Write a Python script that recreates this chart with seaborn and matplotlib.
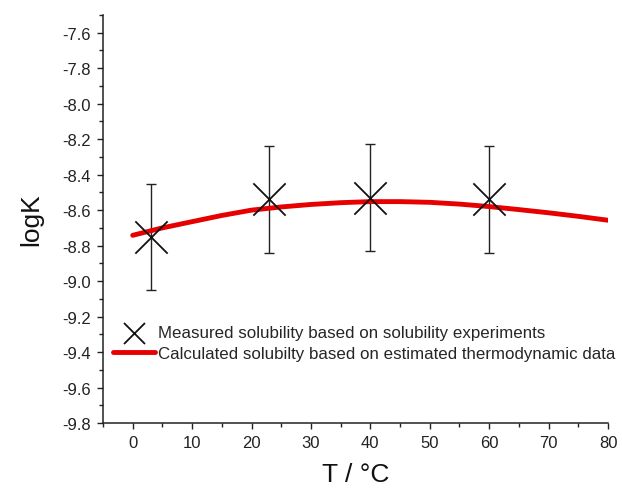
import numpy as np
import pandas as pd
import matplotlib
matplotlib.use('Agg')
import matplotlib.pyplot as plt
from matplotlib.ticker import MultipleLocator
import seaborn as sns

# measured points
temp_meas = [3, 23, 40, 60]
logk_meas = [-8.75, -8.54, -8.53, -8.54]
logk_err = [0.30, 0.30, 0.30, 0.30]

# calculated curve
temp_calc = [0, 5, 10, 15, 20, 25, 30, 35, 40, 45, 50, 55, 60, 65, 70, 75, 80]
logk_calc = [-8.742, -8.700, -8.665, -8.630, -8.600, -8.582, -8.568, -8.558,
             -8.552, -8.552, -8.556, -8.566, -8.580, -8.597, -8.615, -8.635, -8.657]

sns.set_style('ticks')
plt.rcParams['font.family'] = ['Liberation Sans', 'DejaVu Sans']
plt.rcParams['axes.unicode_minus'] = False

df_meas = pd.DataFrame({'T': temp_meas, 'logK': logk_meas, 'err': logk_err})
df_calc = pd.DataFrame({'T': temp_calc, 'logK': logk_calc})

fig = plt.figure(figsize=(6.22, 4.89), dpi=100)
ax = fig.add_axes([0.1656, 0.1329, 0.8119, 0.8344])

ax.errorbar(df_meas['T'], df_meas['logK'], yerr=df_meas['err'], fmt='none',
            ecolor='#222222', elinewidth=1.0, capsize=3.5, capthick=1.0, zorder=2)
sns.lineplot(data=df_calc, x='T', y='logK', color='#e60000', linewidth=3.5,
             ax=ax, zorder=3,
             label='Calculated solubilty based on estimated thermodynamic data')
sns.scatterplot(data=df_meas, x='T', y='logK', marker='x', s=540, color='#111111',
                linewidth=1.3, ax=ax, zorder=4,
                label='Measured solubility based on solubility experiments')

ax.set_xlim(-5, 80)
ax.set_ylim(-9.8, -7.5)
ax.xaxis.set_major_locator(MultipleLocator(10))
ax.xaxis.set_minor_locator(MultipleLocator(5))
ax.yaxis.set_minor_locator(MultipleLocator(0.1))
ax.set_yticks(np.round(np.arange(-9.8, -7.59, 0.2), 1))
ax.yaxis.set_major_formatter(plt.FormatStrFormatter('%.1f'))

ax.tick_params(axis='both', which='major', direction='out', length=4.5, width=1,
               labelsize=12, colors='#222222', pad=4)
ax.tick_params(axis='both', which='minor', direction='out', length=3, width=1,
               colors='#222222')
for side in ['left', 'bottom']:
    ax.spines[side].set_color('#222222')
    ax.spines[side].set_linewidth(1.1)
sns.despine(ax=ax)

ax.set_xlabel('T / °C', fontsize=19, color='#111111', labelpad=9)
ax.set_ylabel('logK', fontsize=19, color='#111111', labelpad=14)

handles, labels = ax.get_legend_handles_labels()
handles = handles[::-1]
labels = labels[::-1]
leg = ax.legend(handles, labels, loc='center left', bbox_to_anchor=(0.0, 0.196),
                frameon=False, fontsize=12.2, handlelength=2.45, handletextpad=0.2,
                labelspacing=0.3, borderpad=0, borderaxespad=0.6, markerscale=0.65)

fig.savefig('out.png', dpi=100)
